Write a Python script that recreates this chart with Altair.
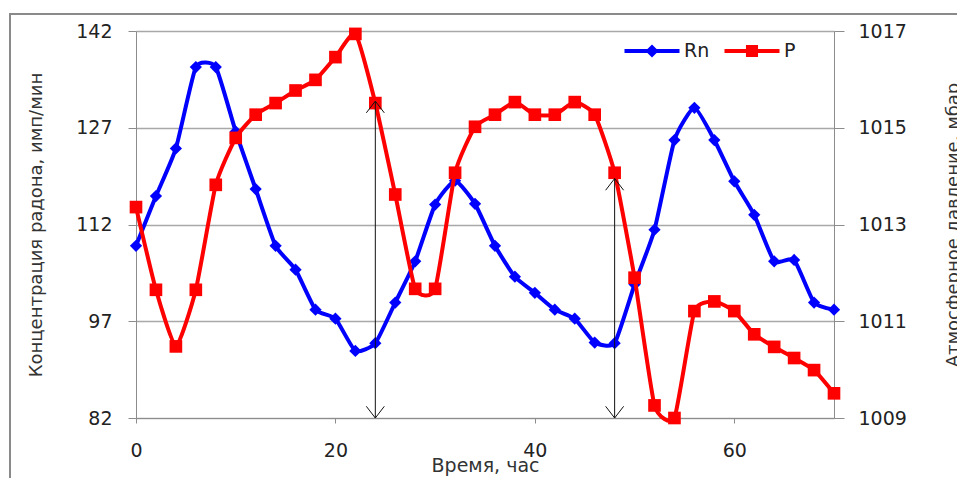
import altair as alt
import pandas as pd

# ---- data ----
hours = list(range(0, 72, 2))
rn = [108.7, 116.4, 123.8, 136.4, 136.4, 126.4, 117.5, 108.7, 105.0, 98.8,
      97.4, 92.4, 93.6, 99.9, 106.3, 115.1, 118.8, 115.2, 108.7, 103.9,
      101.4, 98.8, 97.4, 93.7, 93.6, 102.7, 111.2, 125.1, 130.1, 125.1,
      118.7, 113.5, 106.3, 106.5, 99.9, 98.8]
p = [1013.36, 1011.65, 1010.48, 1011.65, 1013.82, 1014.79, 1015.27, 1015.51,
     1015.77, 1015.99, 1016.46, 1016.94, 1015.51, 1013.62, 1011.67, 1011.67,
     1014.07, 1015.02, 1015.27, 1015.53, 1015.27, 1015.27, 1015.53, 1015.27,
     1014.07, 1011.90, 1009.26, 1009.00, 1011.21, 1011.41, 1011.21, 1010.73,
     1010.47, 1010.24, 1009.99, 1009.51]
arrow_hours = [24, 48]
arrow_top = [1015.55, 1013.95]
arrow_bottom = [1009.0, 1009.0]
series = ["Rn", "P"]
series_colors = ["#0000FF", "#FF0000"]
x_ticks = [0, 20, 40, 60]
left_ticks = [82, 97, 112, 127, 142]
right_ticks = [1009, 1011, 1013, 1015, 1017]

df = pd.DataFrame({"hour": hours, "Rn": rn, "P": p})
arrows = pd.DataFrame({"hour": arrow_hours, "top": arrow_top, "bottom": arrow_bottom})
frame_df = pd.DataFrame({"f": [0]})

FONT = "DejaVu Sans"
BLUE, RED = series_colors
AXIS_GRAY = "#8c8c8c"
TENSION = 0.5

x_axis = alt.Axis(values=x_ticks, title="Время, час", grid=False, tickSize=5,
                  labelPadding=18, titlePadding=-4, labelFontSize=19, labelFlush=False,
                  titleFontSize=19, domainColor=AXIS_GRAY, tickColor=AXIS_GRAY,
                  labelColor="#222222", titleColor="#333333", titleFontWeight="normal",
                  labelFont=FONT, titleFont=FONT)
x_enc = alt.X("hour:Q", scale=alt.Scale(domain=[0, 70], nice=False), axis=x_axis)

left_axis = alt.Axis(orient="left", values=left_ticks, title="Концентрация радона, имп/мин",
                     grid=True, gridColor="#a8a8a8", gridWidth=1.5, tickSize=8,
                     labelPadding=16, titlePadding=30, labelFontSize=19, titleFontSize=18,
                     domainColor=AXIS_GRAY, tickColor=AXIS_GRAY, labelColor="#222222",
                     titleColor="#333333", titleFontWeight="normal",
                     labelFont=FONT, titleFont=FONT)
left_scale = alt.Scale(domain=[82, 142], nice=False, zero=False)

right_axis = alt.Axis(orient="right", values=right_ticks, format="d",
                      title="Атмосферное давление, мбар",
                      grid=False, tickSize=10, labelPadding=14, titlePadding=56,
                      titleAngle=-90, labelFontSize=19, titleFontSize=18,
                      domainColor=AXIS_GRAY, tickColor=AXIS_GRAY, labelColor="#222222",
                      titleColor="#333333", titleFontWeight="normal",
                      labelFont=FONT, titleFont=FONT)
right_scale = alt.Scale(domain=[1009, 1017], nice=False, zero=False)


def y_left(field):
    return alt.Y(field, type="quantitative", scale=left_scale, axis=left_axis)


def y_right(field):
    return alt.Y(field, type="quantitative", scale=right_scale, axis=right_axis)


base = alt.Chart(df)

rn_line = base.mark_line(color=BLUE, strokeWidth=4, interpolate="cardinal",
                         tension=TENSION).encode(x=x_enc, y=y_left("Rn"))
rn_pts = base.mark_point(shape="diamond", filled=True, size=150, color=BLUE, opacity=1).encode(
    x=x_enc, y=y_left("Rn"))
left_layer = alt.layer(rn_line, rn_pts)

p_line = base.mark_line(color=RED, strokeWidth=4, interpolate="cardinal",
                        tension=TENSION).encode(x=x_enc, y=y_right("P"))
p_pts = base.mark_point(shape="square", filled=True, size=160, color=RED, opacity=1).encode(
    x=x_enc, y=y_right("P"))
arrow_base = alt.Chart(arrows)
arrow_rule = arrow_base.mark_rule(color="#111111", strokeWidth=1).encode(
    x=x_enc, y=y_right("top"), y2="bottom:Q")
head_up = arrow_base.mark_point(shape="M-1,1.3L0,0L1,1.3", filled=False, size=324,
                                color="#111111", strokeWidth=1, opacity=1).encode(
    x=x_enc, y=y_right("top"))
head_down = arrow_base.mark_point(shape="M-1,-1.3L0,0L1,-1.3", filled=False, size=324,
                                  color="#111111", strokeWidth=1, opacity=1).encode(
    x=x_enc, y=y_right("bottom"))
right_layer = alt.layer(p_line, p_pts, arrow_rule, head_up, head_down)

# legend (line + marker symbols)
diamond_sym = "M-2.5,-0.18L2.5,-0.18L2.5,0.18L-2.5,0.18Z M0,-0.6L0.6,0L0,0.6L-0.6,0Z"
square_sym = "M-2.5,-0.18L2.5,-0.18L2.5,0.18L-2.5,0.18Z M-0.55,-0.55L0.55,-0.55L0.55,0.55L-0.55,0.55Z"
legend = alt.Legend(orient="none", legendX=505, legendY=9, direction="horizontal",
                    title=None, symbolSize=484, labelFontSize=19, labelFont=FONT,
                    labelColor="#222222", labelOffset=21, columnPadding=14, padding=0,
                    symbolStrokeWidth=0, symbolOpacity=1)
legend_layer = alt.Chart(df).transform_filter("false").mark_point(filled=True, opacity=1).encode(
    color=alt.Color("s:N", scale=alt.Scale(domain=series, range=series_colors), legend=legend),
    shape=alt.Shape("s:N", scale=alt.Scale(domain=series, range=[diamond_sym, square_sym]),
                    legend=legend),
)

frame = alt.Chart(frame_df).mark_rect(fill=None, stroke="#8a8a8a", strokeWidth=2).encode(
    x=alt.value(-126), x2=alt.value(860), y=alt.value(-17), y2=alt.value(480))

chart = alt.layer(frame, left_layer, right_layer, legend_layer).resolve_scale(
    y="independent"
).properties(
    width=698, height=387,
    padding={"left": 136, "top": 31, "right": 123, "bottom": 60},
    autosize=alt.AutoSizeParams(type="none"),
    background="white",
).configure_view(stroke=None).configure(font=FONT)

chart.save("out.html", embed_options={"renderer": "svg", "actions": False})
